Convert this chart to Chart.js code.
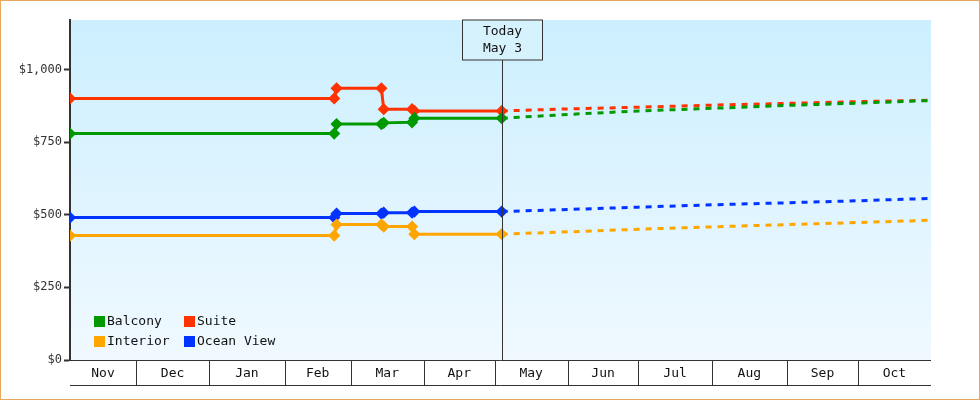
<!DOCTYPE html>
<html>
<head>
<meta charset="utf-8">
<script src="https://cdn.jsdelivr.net/npm/chart.js@4"></script>
<style>
  body { margin: 0; background: #fff; }
  #wrap { width: 980px; height: 400px; box-sizing: border-box; border: 1px solid #e8a860; }
</style>
</head>
<body>
<div id="wrap"><canvas id="c" width="978" height="398"></canvas></div>
<script>
// days counted from Nov 1
var monthLabels = ['Nov', 'Dec', 'Jan', 'Feb', 'Mar', 'Apr', 'May', 'Jun', 'Jul', 'Aug', 'Sep', 'Oct'];
var monthStarts = [0, 28, 59, 91, 119, 150, 180, 211, 241, 272, 304, 334, 365];
var todayDay = 183;
var yTicks = [0, 250, 500, 750, 1000];

var balconyHist = [[0, 779], [112, 779], [113, 812], [132, 812], [133, 816], [145, 818], [146, 832], [183, 832]];
var suiteHist = [[0, 900], [112, 900], [113, 935], [132, 935], [133, 863], [145, 863], [146, 857], [183, 857]];
var interiorHist = [[0, 428], [112, 428], [113, 466], [132, 466], [133, 459], [145, 459], [146, 433], [183, 433]];
var oceanHist = [[0, 490], [112, 490], [113, 504], [132, 504], [133, 507], [145, 507], [146, 511], [183, 511]];

var balconyFcst = [[183, 832], [211, 845], [241, 857], [272, 866], [304, 876], [334, 884], [365, 893]];
var suiteFcst = [[183, 857], [211, 864], [241, 870], [272, 877], [304, 883], [334, 889], [365, 894]];
var interiorFcst = [[183, 433], [211, 441], [241, 450], [272, 458], [304, 466], [334, 473], [365, 481]];
var oceanFcst = [[183, 511], [211, 518], [241, 526], [272, 534], [304, 541], [334, 548], [365, 556]];

var colors = { balcony: '#009900', suite: '#ff3300', interior: '#ffa500', ocean: '#0033ff' };
var FONT = '"DejaVu Sans Mono", monospace';

function pts(a) { return a.map(function(p) { return { x: p[0], y: p[1] }; }); }
function hist(label, data, c) {
    return { label: label, data: pts(data), borderColor: c, backgroundColor: c, borderWidth: 3,
             pointStyle: 'rectRot', pointRadius: 4, pointHoverRadius: 4, tension: 0 };
}
function fcst(label, data, c) {
    return { label: label, data: pts(data), borderColor: c, borderWidth: 3, borderDash: [6, 6],
             pointRadius: 0, tension: 0 };
}

var decor = {
    id: 'decor',
    beforeDraw: function(chart) {
        var a = chart.chartArea, ctx = chart.ctx;
        var g = ctx.createLinearGradient(0, a.top, 0, a.bottom);
        g.addColorStop(0, '#ccefff');
        g.addColorStop(1, '#f0f9ff');
        ctx.fillStyle = g;
        ctx.fillRect(a.left, a.top, a.right - a.left, a.bottom - a.top);
    },
    afterDraw: function(chart) {
        var a = chart.chartArea, ctx = chart.ctx, xs = chart.scales.x;
        ctx.save();
        // month boxes
        ctx.strokeStyle = '#333';
        ctx.lineWidth = 1;
        ctx.beginPath();
        ctx.moveTo(a.left, a.bottom + 0.5); ctx.lineTo(a.right, a.bottom + 0.5);
        ctx.moveTo(a.left, a.bottom + 25.5); ctx.lineTo(a.right, a.bottom + 25.5);
        monthStarts.forEach(function(d, i) {
            if (i === 0 || i === monthStarts.length - 1) return;
            var x = Math.round(xs.getPixelForValue(d)) + 0.5;
            ctx.moveTo(x, a.bottom); ctx.lineTo(x, a.bottom + 25);
        });
        ctx.stroke();
        ctx.fillStyle = '#111';
        ctx.font = '13px ' + FONT;
        ctx.textAlign = 'center';
        ctx.textBaseline = 'middle';
        monthLabels.forEach(function(m, i) {
            var x = (xs.getPixelForValue(monthStarts[i]) + xs.getPixelForValue(monthStarts[i + 1])) / 2;
            ctx.fillText(m, x, a.bottom + 14);
        });
        // today line + box
        var tx = Math.round(xs.getPixelForValue(todayDay)) + 0.5;
        ctx.beginPath();
        ctx.moveTo(tx, a.top); ctx.lineTo(tx, a.bottom);
        ctx.stroke();
        ctx.fillStyle = '#d6f2fd';
        ctx.fillRect(tx - 40, a.top, 80, 40);
        ctx.strokeRect(tx - 40, a.top, 80, 40);
        ctx.fillStyle = '#111';
        ctx.fillText('Today', tx, a.top + 12);
        ctx.fillText('May 3', tx, a.top + 29);
        // legend
        var items = [['Balcony', colors.balcony, 93, 320], ['Suite', colors.suite, 183, 320],
                     ['Interior', colors.interior, 93, 340], ['Ocean View', colors.ocean, 183, 340]];
        ctx.textAlign = 'left';
        items.forEach(function(it) {
            ctx.fillStyle = it[1];
            ctx.fillRect(it[2], it[3] - 5, 11, 11);
            ctx.fillStyle = '#111';
            ctx.fillText(it[0], it[2] + 13, it[3] + 1);
        });
        ctx.restore();
    }
};

new Chart(document.getElementById('c'), {
    type: 'line',
    data: {
        datasets: [
            fcst('Balcony fc', balconyFcst, colors.balcony),
            fcst('Suite fc', suiteFcst, colors.suite),
            fcst('Interior fc', interiorFcst, colors.interior),
            fcst('Ocean View fc', oceanFcst, colors.ocean),
            hist('Balcony', balconyHist, colors.balcony),
            hist('Suite', suiteHist, colors.suite),
            hist('Interior', interiorHist, colors.interior),
            hist('Ocean View', oceanHist, colors.ocean)
        ]
    },
    options: {
        responsive: false,
        animation: false,
        layout: { padding: { top: 19, right: 48, bottom: 39, left: 0 } },
        plugins: { legend: { display: false }, tooltip: { enabled: false } },
        scales: {
            x: { type: 'linear', min: 0, max: 365, display: false },
            y: {
                min: 0, max: 1170,
                afterFit: function(s) { s.width = 69; },
                afterBuildTicks: function(s) { s.ticks = yTicks.map(function(v) { return { value: v }; }); },
                border: { display: true, color: '#333', width: 2 },
                grid: { drawOnChartArea: false, color: '#333', tickLength: 6, tickWidth: 2 },
                ticks: {
                    color: '#333', padding: 2,
                    font: { family: FONT, size: 12 },
                    callback: function(v) { return '$' + v.toLocaleString('en-US'); }
                }
            }
        }
    },
    plugins: [decor]
});
</script>
</body>
</html>
